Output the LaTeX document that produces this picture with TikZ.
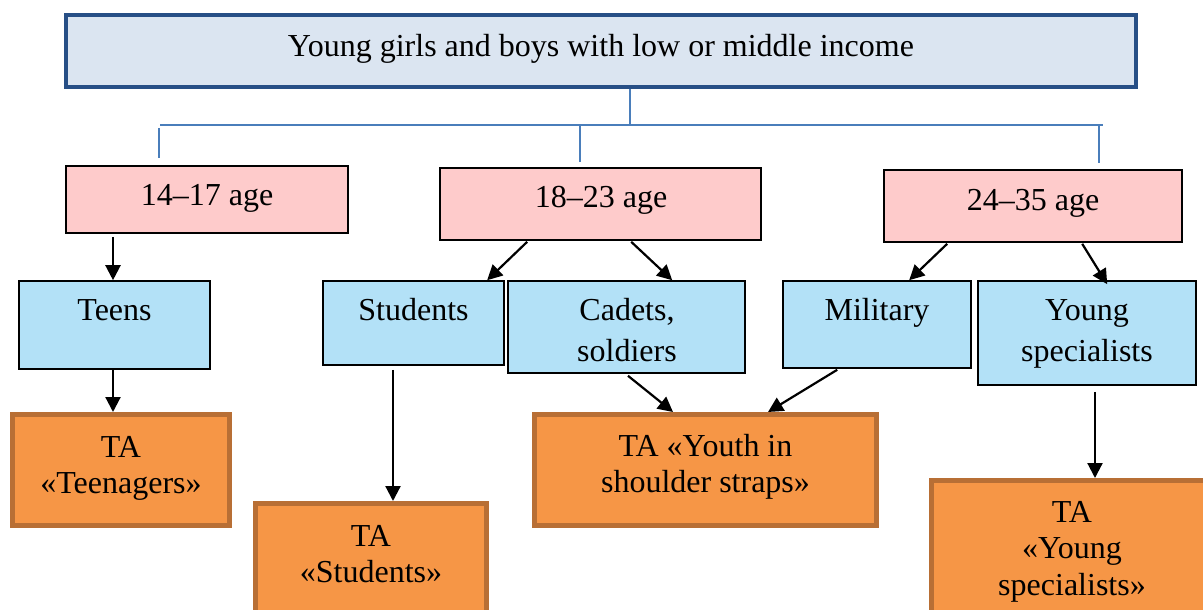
\documentclass[tikz,border=0pt]{standalone}
\usepackage{fontspec}
\setmainfont{Liberation Serif}
\usetikzlibrary{arrows.meta,calc}
\definecolor{topfill}{HTML}{DBE5F1}
\definecolor{topdraw}{HTML}{274F86}
\definecolor{busblue}{HTML}{4A7EBB}
\definecolor{pinkfill}{HTML}{FECBCB}
\definecolor{bluefill}{HTML}{B3E1F7}
\definecolor{orangefill}{HTML}{F69646}
\definecolor{orangedraw}{HTML}{B86F35}
\tikzset{
  bx/.style={rectangle, inner sep=0pt},
  topbox/.style={bx, draw=topdraw, fill=topfill, line width=4.5pt},
  agebox/.style={bx, draw=black, fill=pinkfill, line width=1.6pt},
  grpbox/.style={bx, draw=black, fill=bluefill, line width=1.6pt},
  tabox/.style={bx, draw=orangedraw, fill=orangefill, line width=5pt},
  lbl/.style={font=\fontsize{32}{36}\selectfont, inner sep=0pt, anchor=base},
  bus/.style={draw=busblue, line width=2.6pt},
  arr/.style={draw=black, line width=2.2pt, -{Triangle[length=15pt,width=15pt]}},
}
\begin{document}
\begin{tikzpicture}[x=1pt,y=-1pt]
\useasboundingbox (0,0) rectangle (1203,610);
\clip (0,0) rectangle (1203,610);
\fill[white] (0,0) rectangle (1203,610);

% top box
\node[topbox, minimum width=1070pt, minimum height=72pt] (top) at (601,51) {};
\node[lbl] (ttop) at (601,57) {Young girls and boys with low or middle income};

% bus lines
\coordinate (hub) at (630,125);
\coordinate (busL) at (160,125);
\coordinate (busR) at (1103,125);
\coordinate (dL1) at (159,128);
\coordinate (dL2) at (159,158);
\coordinate (dM1) at (580,125);
\coordinate (dM2) at (580,162);
\coordinate (dR1) at (1099,125);
\coordinate (dR2) at (1099,163);
\draw[bus] (top.south -| hub) -- (hub);
\draw[bus] (busL) -- (busR);
\draw[bus] (dL1) -- (dL2);
\draw[bus] (dM1) -- (dM2);
\draw[bus] (dR1) -- (dR2);

% age boxes
\node[agebox, minimum width=282pt, minimum height=67pt] (a1417) at (207,199.5) {};
\node[lbl] (t1417) at (207,205) {14–17 age};
\node[agebox, minimum width=321pt, minimum height=72pt] (a1823) at (600.5,204) {};
\node[lbl] (t1823) at (601,207) {18–23 age};
\node[agebox, minimum width=298pt, minimum height=72pt] (a2435) at (1033,206) {};
\node[lbl] (t2435) at (1033,210) {24–35 age};

% group boxes
\node[grpbox, minimum width=191pt, minimum height=88pt] (teens) at (114.5,325) {};
\node[lbl] (tteens) at (114.5,320) {Teens};
\node[grpbox, minimum width=181pt, minimum height=84pt] (stud) at (413.5,323) {};
\node[lbl] (tstud) at (413.5,320) {Students};
\node[grpbox, minimum width=237pt, minimum height=92pt] (cad) at (626.5,327) {};
\node[lbl] (tcad1) at (627,320) {Cadets,};
\node[lbl] (tcad2) at (627,361) {soldiers};
\node[grpbox, minimum width=188pt, minimum height=87pt] (mil) at (877,324.5) {};
\node[lbl] (tmil) at (877,320) {Military};
\node[grpbox, minimum width=218pt, minimum height=104pt] (ys) at (1087,333) {};
\node[lbl] (tys1) at (1087,320) {Young};
\node[lbl] (tys2) at (1087,361) {specialists};

% target audience boxes
\node[tabox, minimum width=217pt, minimum height=111pt] (tateen) at (121,470) {};
\node[lbl] (ttateen1) at (121,457) {TA};
\node[lbl] (ttateen2) at (121,493) {«Teenagers»};
\node[tabox, minimum width=231pt, minimum height=136.5pt] (tastud) at (371,571.75) {};
\node[lbl] (ttastud1) at (371,546) {TA};
\node[lbl] (ttastud2) at (371,582) {«Students»};
\node[tabox, minimum width=342pt, minimum height=111pt] (tayouth) at (705.5,470) {};
\node[lbl] (ttayouth1) at (705.5,456) {TA «Youth in};
\node[lbl] (ttayouth2) at (705.5,492) {shoulder straps»};
\node[tabox, minimum width=293.5pt, minimum height=159.5pt] (tays) at (1078.25,560.25) {};
\node[lbl] (ttays1) at (1072,522) {TA};
\node[lbl] (ttays2) at (1072,558) {«Young};
\node[lbl] (ttays3) at (1072,595) {specialists»};

% arrows
\draw[arr] ([xshift=-94pt,yshift=-3pt]a1417.south) -- ([xshift=-1.5pt]teens.north);
\draw[arr] ([xshift=-1.5pt]teens.south) -- ([xshift=-8pt]tateen.north);
\draw[arr] ([xshift=-20.5pt,yshift=-4pt]stud.south) -- ([xshift=22pt]tastud.north);
\draw[arr] ([xshift=88pt,yshift=-1pt]a1823.south west) -- ([xshift=165pt]stud.north west);
\draw[arr] ([xshift=192pt,yshift=-1pt]a1823.south west) -- ([xshift=165pt]cad.north west);
\draw[arr] ([xshift=1.5pt,yshift=-2pt]cad.south) -- ([xshift=141pt]tayouth.north west);
\draw[arr] ([xshift=55pt,yshift=-1pt]mil.south west) -- ([xshift=236pt]tayouth.north west);
\draw[arr] ([xshift=64pt,yshift=-1pt]a2435.south west) -- ([xshift=127pt]mil.north west);
\draw[arr] ([xshift=199pt,yshift=-1pt]a2435.south west) -- ([xshift=130pt,yshift=-4pt]ys.north west);
\draw[arr] ([xshift=8pt,yshift=-6pt]ys.south) -- ([xshift=166pt]tays.north west);
\end{tikzpicture}
\end{document}
